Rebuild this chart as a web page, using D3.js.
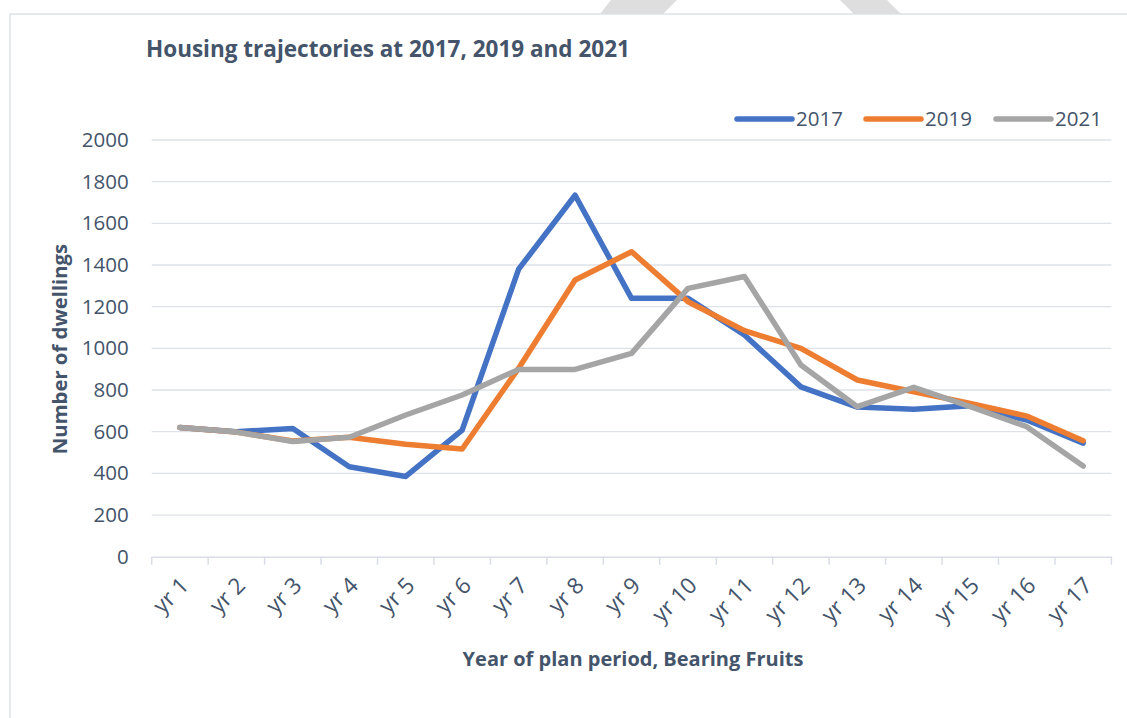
<!DOCTYPE html>
<html>
<head>
<meta charset="utf-8">
<script src="https://cdn.jsdelivr.net/npm/d3@7"></script>
<style>
  body { margin: 0; background: #fff; }
  text { font-family: "Open Sans", sans-serif; fill: #44546A; }
</style>
</head>
<body>
<div class="myChart"></div>
<script>
// chart values
const years = ["yr 1", "yr 2", "yr 3", "yr 4", "yr 5", "yr 6", "yr 7", "yr 8", "yr 9",
    "yr 10", "yr 11", "yr 12", "yr 13", "yr 14", "yr 15", "yr 16", "yr 17"];
const s2017 = [620, 600, 615, 432, 385, 608, 1380, 1735, 1240, 1240, 1064, 815, 718, 708, 725, 656, 545];
const s2019 = [620, 598, 555, 573, 540, 517, 905, 1328, 1464, 1224, 1085, 1000, 848, 792, 736, 675, 557];
const s2021 = [620, 598, 553, 573, 680, 776, 899, 899, 976, 1288, 1345, 920, 720, 813, 720, 624, 435];
const seriesNames = ["2017", "2019", "2021"];
const yTicks = [0, 200, 400, 600, 800, 1000, 1200, 1400, 1600, 1800, 2000];

const colors = {"2017": "#4472C4", "2019": "#ED7D31", "2021": "#A5A5A5"};
const series = [
    {name: "2017", values: s2017},
    {name: "2019", values: s2019},
    {name: "2021", values: s2021}
];

const W = 1127, H = 718;
const margin = {top: 140, right: 15.6, bottom: 161.3, left: 151.7};
const width = W - margin.left - margin.right;
const height = H - margin.top - margin.bottom;

const svg = d3.select(".myChart").append("svg").attr("width", W).attr("height", H);

// faint shapes peeking above the chart frame
svg.append("polygon").attr("points", "611,0 677,0 663,14 600,14").attr("fill", "#DEDEDE");
svg.append("polygon").attr("points", "840,0 887,0 901,14 854,14").attr("fill", "#DEDEDE");

svg.append("rect")
    .attr("x", 10).attr("y", 14).attr("width", W).attr("height", H)
    .attr("fill", "#fff").attr("stroke", "#D9DEE6").attr("stroke-width", 1.3);

const x = d3.scaleBand().domain(years).range([0, width]);
const y = d3.scaleLinear().domain([0, 2000]).range([height, 0]);

const g = svg.append("g").attr("transform", "translate(" + margin.left + "," + margin.top + ")");

// gridlines
g.append("g")
    .selectAll("line")
    .data(yTicks.filter(d => d > 0))
    .enter().append("line")
    .attr("x1", 0).attr("x2", width)
    .attr("y1", d => y(d)).attr("y2", d => y(d))
    .attr("stroke", "#DEE2E8").attr("stroke-width", 1.3);

// y axis labels
const yAxis = g.append("g")
    .call(d3.axisLeft(y).tickValues(yTicks).tickFormat(d3.format("d")).tickSize(0).tickPadding(23));
yAxis.select(".domain").remove();
yAxis.selectAll("text").style("font-size", "20.5px").attr("fill", "#44546A");

// x axis
const xAxis = g.append("g")
    .attr("transform", "translate(0," + height + ")")
    .call(d3.axisBottom(x).tickSize(0).tickFormat(""));
xAxis.select(".domain").attr("stroke", "#D9DEE6").attr("stroke-width", 1.5);

const bounds = years.map(d => x(d)).concat([width]);
xAxis.append("g").selectAll("line")
    .data(bounds)
    .enter().append("line")
    .attr("x1", d => d).attr("x2", d => d)
    .attr("y1", 0).attr("y2", 8)
    .attr("stroke", "#D9DEE6").attr("stroke-width", 1.5);

xAxis.append("g").selectAll("text")
    .data(years)
    .enter().append("text")
    .attr("transform", d => "translate(" + (x(d) + x.bandwidth() / 2 - 1) + ",19) rotate(-45)")
    .attr("text-anchor", "end")
    .attr("dy", "0.71em")
    .style("font-size", "22.5px")
    .text(d => d);

// lines
const line = d3.line()
    .x((d, i) => x(years[i]) + x.bandwidth() / 2)
    .y(d => y(d));

g.selectAll(".series")
    .data(series)
    .enter().append("path")
    .attr("class", "series")
    .attr("d", d => line(d.values))
    .attr("fill", "none")
    .attr("stroke", d => colors[d.name])
    .attr("stroke-width", 5.5)
    .attr("stroke-linejoin", "round")
    .attr("stroke-linecap", "round");

// title
svg.append("text")
    .attr("x", 146).attr("y", 57)
    .style("font-size", "22.5px").style("font-weight", "bold")
    .text("Housing trajectories at 2017, 2019 and 2021");

// axis titles
svg.append("text")
    .attr("transform", "translate(67,349) rotate(-90)")
    .attr("text-anchor", "middle")
    .style("font-size", "20.3px").style("font-weight", "bold")
    .text("Number of dwellings");

svg.append("text")
    .attr("x", 633).attr("y", 666)
    .attr("text-anchor", "middle")
    .style("font-size", "20px").style("font-weight", "bold")
    .text("Year of plan period, Bearing Fruits");

// legend
const legendX = [737, 866, 996];
const legend = svg.append("g");
seriesNames.forEach((name, i) => {
    legend.append("line")
        .attr("x1", legendX[i]).attr("x2", legendX[i] + 55)
        .attr("y1", 119).attr("y2", 119)
        .attr("stroke", colors[name]).attr("stroke-width", 5.5)
        .attr("stroke-linecap", "round");
    legend.append("text")
        .attr("x", legendX[i] + 59).attr("y", 126)
        .style("font-size", "20.5px")
        .text(name);
});
</script>
</body>
</html>
